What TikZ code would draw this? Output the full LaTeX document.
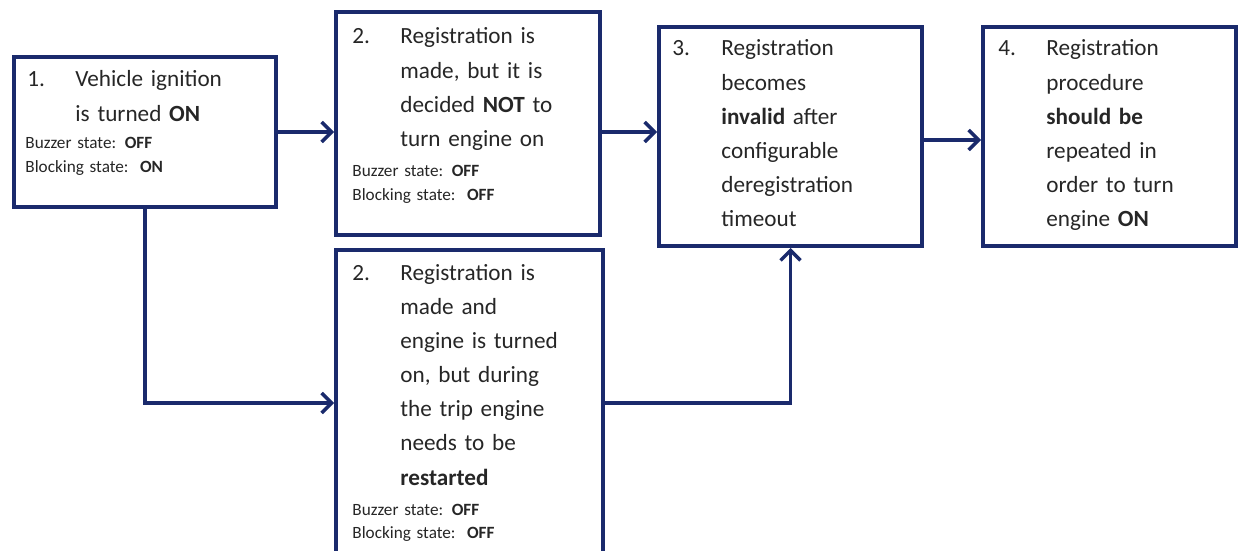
\documentclass[tikz,border=0pt]{standalone}
\usepackage{fontspec}
\setmainfont{Carlito}
\usetikzlibrary{arrows.meta,positioning}
\definecolor{navy}{RGB}{26,42,108}

\begin{document}
\begin{tikzpicture}[x=0.5pt,y=-0.5pt]
			\tikzstyle{box}=[draw=navy, line width=2pt, rectangle, inner sep=0pt]
			\tikzstyle{arrow}=[draw=navy, line width=1.7pt, -{Straight Barb[length=5pt,width=10pt]}]
			\tikzstyle{num}=[anchor=base west, inner sep=0pt, text=black!85, font=\fontsize{11.6}{17.1}\selectfont]
			\tikzstyle{body}=[num, text width=100pt, align=left]
			\tikzstyle{states}=[anchor=base west, inner sep=0pt, text=black!85, text width=100pt, align=left, font=\fontsize{8.6}{12}\selectfont]
			\newcommand\Xnum{16}
			\newcommand\Xtxt{64}

			\useasboundingbox (0,0) rectangle (1239,551);
			\clip (0,0) rectangle (1239,551);

			% Boxes
			\node [box, minimum width=131pt, minimum height=75pt] at (145,132) (B1) {};
			\node [box, minimum width=132pt, minimum height=111.5pt] at (468,123.5) (B2a) {};
			\node [box, minimum width=133.5pt, minimum height=153pt] at (469.5,403) (B2b) {};
			\node [box, minimum width=131.5pt, minimum height=109.5pt] at (790.5,136.5) (B3) {};
			\node [box, minimum width=126.5pt, minimum height=109.5pt] at (1109.5,136.5) (B4) {};

			% Step 1
			\node [num] at (27,87) (N1) {1.};
			\node [body] at (75,87) (T1) {Vehicle ignition\\is turned \textbf{ON}};
			\node [states] at (25,149) (S1) {Buzzer state: \textbf{OFF}\\Blocking state:\ \ \textbf{ON}};

			% Step 2, engine not turned on
			\node [num] at (336+\Xnum,44) (N2a) {2.};
			\node [body] at (336+\Xtxt,44) (T2a) {Registration is\\made, but it is\\decided \textbf{NOT} to\\turn engine on};
			\node [states] at (336+\Xnum,177) (S2a) {Buzzer state: \textbf{OFF}\\Blocking state:\ \ \textbf{OFF}};

			% Step 2, engine restarted
			\node [num] at (336+\Xnum,280) (N2b) {2.};
			\node [body] at (336+\Xtxt,280) (T2b) {Registration is\\made and\\engine is turned\\on, but during\\the trip engine\\needs to be\\\textbf{restarted}};
			\node [states] at (336+\Xnum,515) (S2b) {Buzzer state: \textbf{OFF}\\Blocking state:\ \ \textbf{OFF}};

			% Step 3
			\node [num] at (672,56) (N3) {3.};
			\node [body] at (721,56) (T3) {Registration\\becomes\\\textbf{invalid} after\\configurable\\deregistration\\timeout};

			% Step 4
			\node [num] at (998,56) (N4) {4.};
			\node [body] at (1046,56) (T4) {Registration\\procedure\\\textbf{should be}\\repeated in\\order to turn\\engine \textbf{ON}};

			% Path Arrows
			\path [arrow] (B1.east) -- (B1.east -| B2a.west);
			\path [arrow] (B1.east -| B2a.east) -- (B1.east -| B3.west);
			\path [arrow] ([yshift=-1.75pt]B3.east) -- ([yshift=-1.75pt]B3.east -| B4.west);
			\path [arrow] (B1.south) |- (B2b.west);
			\path [arrow] (B2b.east) -| (B3.south);

		\end{tikzpicture}
\end{document}
